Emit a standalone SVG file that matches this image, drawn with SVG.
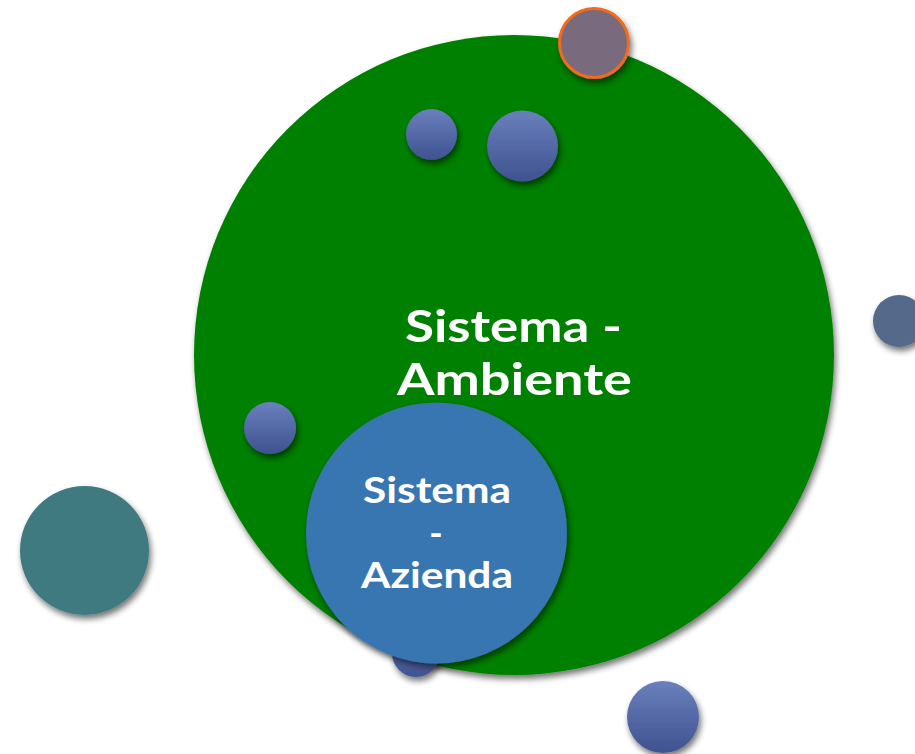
<svg xmlns="http://www.w3.org/2000/svg" width="915" height="754" viewBox="0 0 915 754">
<defs>
<filter id="sh" x="-30%" y="-30%" width="170%" height="170%">
<feGaussianBlur in="SourceAlpha" stdDeviation="3"/>
<feOffset dx="2" dy="4" result="b"/>
<feComponentTransfer><feFuncA type="linear" slope="0.55"/></feComponentTransfer>
<feMerge><feMergeNode/><feMergeNode in="SourceGraphic"/></feMerge>
</filter>
<linearGradient id="bl" x1="0" y1="0" x2="0" y2="1">
<stop offset="0" stop-color="#6a80bd"/>
<stop offset="1" stop-color="#3f5290"/>
</linearGradient>
</defs>
<style>
.t{font-family:Lato,"Open Sans","Liberation Sans",sans-serif;font-weight:bold;fill:#fff;text-anchor:middle}
.b{fill:url(#bl);filter:url(#sh)}
</style>
<g id="ambiente" filter="url(#sh)">
<circle cx="514" cy="355" r="320" fill="#008000"/>
</g>
<g id="c-hidden"><circle class="b" cx="416" cy="653" r="24"/></g>
<g id="c-orange"><circle cx="594" cy="43" r="34.5" fill="#7a6b7d" stroke="#f26b1d" stroke-width="3" filter="url(#sh)"/></g>
<g id="c-s1"><circle class="b" cx="431.5" cy="134.5" r="25.5"/></g>
<g id="c-s2"><circle class="b" cx="522.5" cy="146" r="35.5"/></g>
<g id="c-right"><circle cx="899" cy="321" r="26" fill="#546a8a" filter="url(#sh)"/></g>
<g id="c-left"><circle class="b" cx="270" cy="428" r="26"/></g>
<g id="c-teal"><circle cx="84.5" cy="550.5" r="64.5" fill="#3f7a81" filter="url(#sh)"/></g>
<g id="c-bottom"><circle class="b" cx="663" cy="717" r="36"/></g>
<g id="ambiente-label">
<text class="t" x="513.5" y="342" font-size="44" textLength="217" lengthAdjust="spacingAndGlyphs">Sistema -</text>
<text class="t" x="514.5" y="395" font-size="44" textLength="235" lengthAdjust="spacingAndGlyphs">Ambiente</text>
</g>
<g id="azienda">
<circle cx="436.5" cy="533" r="130.5" fill="#3776b2" filter="url(#sh)"/>
<text class="t" x="437" y="503" font-size="36" textLength="148" lengthAdjust="spacingAndGlyphs">Sistema</text>
<text class="t" x="436" y="546" font-size="36">-</text>
<text class="t" x="437" y="588" font-size="36" textLength="152" lengthAdjust="spacingAndGlyphs">Azienda</text>
</g>
<g id="connectors"/>
</svg>
